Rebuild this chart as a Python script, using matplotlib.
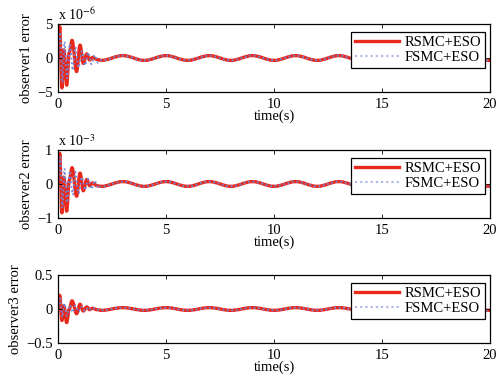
import numpy as np
import matplotlib
matplotlib.use("Agg")
import matplotlib.pyplot as plt
from matplotlib.path import Path
from matplotlib.patches import PathPatch
from matplotlib.lines import Line2D

plt.rcParams['font.family'] = ['Liberation Serif', 'DejaVu Serif']
plt.rcParams['mathtext.fontset'] = 'stix'

# transient part (extrema)
red_t = [0, 0.08, 0.18, 0.27, 0.4, 0.52, 0.65, 0.86, 1.02, 1.17, 1.33, 1.46, 1.6, 1.8]
blue_t = [0, 0.1, 0.2, 0.3, 0.42, 0.55, 0.68, 0.8, 0.95, 1.1, 1.25, 1.4, 1.55, 1.7, 1.85]

red_v1 = [0, 4.6, -4.4, 1.2, -4.0, 0.8, 2.6, -2.0, 1.9, -0.8, 0.6, -0.3, 0.1, -0.2]
blue_v1 = [0, 3.8, -3.6, 2.4, -3.0, 2.1, -1.8, 1.6, -1.4, 1.0, -1.1, 0.8, -0.9, 0.4, -0.7]
red_v2 = [0, 0.9, -0.85, 0.2, -0.8, 0.1, 0.48, -0.36, 0.32, -0.2, 0.13, -0.05, 0.03, -0.05]
blue_v2 = [0, 0.8, -0.7, 0.45, -0.55, 0.38, -0.32, 0.35, -0.28, 0.2, -0.18, 0.15, -0.15, 0.1, -0.12]
red_v3 = [0, 0.2, -0.17, 0.05, -0.2, 0.0, 0.12, -0.07, 0.07, -0.03, 0.03, -0.01, 0.01, -0.01]
blue_v3 = [0, 0.15, -0.12, 0.08, -0.1, 0.06, -0.05, 0.05, -0.04, 0.03, -0.03, 0.02, -0.02, 0.01, -0.01]

# steady oscillation (troughs at even t, crests at odd t)
steady_t = [2, 3, 4, 5, 6, 7, 8, 9, 10, 11, 12, 13, 14, 15, 16, 17, 18, 19, 20]
steady_v1 = [-0.35, 0.35, -0.35, 0.35, -0.35, 0.35, -0.35, 0.35, -0.35, 0.35,
             -0.35, 0.35, -0.35, 0.35, -0.35, 0.35, -0.35, 0.35, -0.35]
steady_v2 = [-0.07, 0.07, -0.07, 0.07, -0.07, 0.07, -0.07, 0.07, -0.07, 0.07,
             -0.07, 0.07, -0.07, 0.07, -0.07, 0.07, -0.07, 0.07, -0.07]
steady_v3 = [-0.02, 0.02, -0.02, 0.02, -0.02, 0.02, -0.02, 0.02, -0.02, 0.02,
             -0.02, 0.02, -0.02, 0.02, -0.02, 0.02, -0.02, 0.02, -0.02]

ylabels = ["observer1 error", "observer2 error", "observer3 error"]
yticks = [[-5, 0, 5], [-1, 0, 1], [-0.5, 0, 0.5]]
ytick_labels = [["\u22125", "0", "5"], ["\u22121", "0", "1"], ["\u22120.5", "0", "0.5"]]
multipliers = [r"x 10$^{-6}$", r"x 10$^{-3}$", None]
xticks = [0, 5, 10, 15, 20]

RED = '#e8291c'
BLUE = '#7086d8'


def smooth_path(ts, vs):
    # bezier segments between extrema, flat tangents at each extremum
    verts = [(ts[0], vs[0])]
    codes = [Path.MOVETO]
    k = 1 - 2 / np.pi
    for j in range(len(ts) - 1):
        w = ts[j + 1] - ts[j]
        verts += [(ts[j] + k * w, vs[j]), (ts[j + 1] - k * w, vs[j + 1]), (ts[j + 1], vs[j + 1])]
        codes += [Path.CURVE4] * 3
    return Path(verts, codes)


panels = [(red_v1, blue_v1, steady_v1), (red_v2, blue_v2, steady_v2), (red_v3, blue_v3, steady_v3)]
tops = [0.9373, 0.6084, 0.282]

fig = plt.figure(figsize=(4.98, 3.83), dpi=100)
fs = 10.5
for i, (rv, bv, sv) in enumerate(panels):
    ax = fig.add_axes([0.1165, tops[i] - 0.1775, 0.8675, 0.1775])
    ax.add_patch(PathPatch(smooth_path(red_t + steady_t, rv + sv), fill=False,
                           edgecolor=RED, lw=2.4, joinstyle='round', capstyle='butt'))
    ax.add_patch(PathPatch(smooth_path(blue_t + steady_t, bv + sv), fill=False,
                           edgecolor=BLUE, lw=1.3, ls=(0, (1, 1.5))))
    ax.set_xlim(0, 20)
    ax.set_ylim(yticks[i][0], yticks[i][-1])
    ax.set_xticks(xticks)
    ax.set_xticklabels([str(x) for x in xticks], fontsize=fs)
    ax.set_yticks(yticks[i])
    ax.set_yticklabels(ytick_labels[i], fontsize=fs)
    ax.tick_params(direction='in', top=True, right=True, length=3, width=0.6, pad=4)
    for s in ax.spines.values():
        s.set_linewidth(0.9)
    ax.set_xlabel("time(s)", fontsize=fs, labelpad=-1)
    ax.set_ylabel(ylabels[i], fontsize=fs, labelpad=3)
    if multipliers[i]:
        ax.text(0, 1.02, multipliers[i], transform=ax.transAxes, fontsize=fs - 0.5,
                ha='left', va='bottom')
    handles = [Line2D([], [], color=RED, lw=2.4),
               Line2D([], [], color='#a9b6e6', lw=1.5, ls=(0, (1, 1.5)))]
    leg = ax.legend(handles, ['RSMC+ESO', 'FSMC+ESO'], loc='upper right',
                    bbox_to_anchor=(0.988, 0.885), fontsize=fs,
                    handlelength=3.0, handletextpad=0.4, borderpad=0.25,
                    labelspacing=0.15, borderaxespad=0, fancybox=False, framealpha=1)
    leg.get_frame().set_edgecolor('black')
    leg.get_frame().set_linewidth(0.9)

fig.savefig("out.png", dpi=100)
